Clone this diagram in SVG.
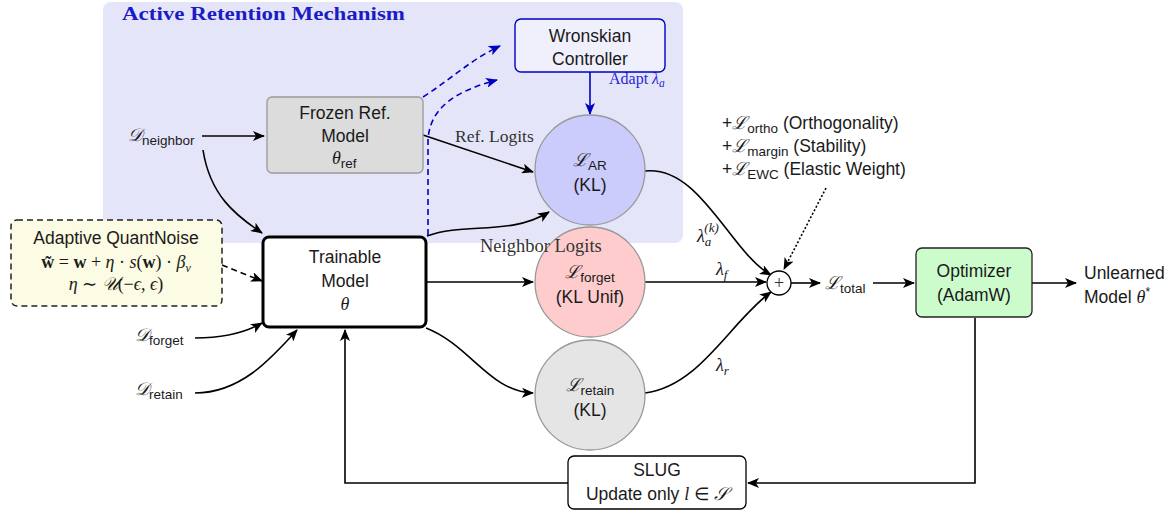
<svg xmlns="http://www.w3.org/2000/svg" width="1173" height="510" viewBox="0 0 1173 510">
<style>
.s{font-family:"Liberation Sans","DejaVu Sans",sans-serif;font-size:17.5px;fill:#1a1a1a}
.m{font-family:"Liberation Serif","DejaVu Serif",serif;font-style:italic;font-size:18px;fill:#1a1a1a}
.r{font-family:"Liberation Serif","DejaVu Serif",serif;fill:#333}
.sub{font-family:"Liberation Sans","DejaVu Sans",sans-serif;font-style:normal;font-size:13.5px}
.c{stroke:#000;stroke-width:1.6;fill:none}
.bl{stroke:#0000c0;stroke-width:1.6;fill:none}
.mid{text-anchor:middle}
</style>
<defs>
<marker id="ah" viewBox="0 0 12 10" refX="11" refY="5" markerWidth="12" markerHeight="10" markerUnits="userSpaceOnUse" orient="auto"><path d="M0,0 L12,5 L0,10 L3,5 Z" fill="#000"/></marker>
<marker id="ahb" viewBox="0 0 12 10" refX="11" refY="5" markerWidth="12" markerHeight="10" markerUnits="userSpaceOnUse" orient="auto"><path d="M0,0 L12,5 L0,10 L3,5 Z" fill="#0000c0"/></marker>
</defs>
<rect width="1173" height="510" fill="#fff"/>
<g id="bg">
<rect x="103" y="2" width="580" height="241" rx="8" fill="#e5e5fa"/>
<text x="122" y="20" font-family="Liberation Serif,serif" font-weight="bold" font-size="19.5" fill="#1c1cc4" textLength="283" lengthAdjust="spacingAndGlyphs">Active Retention Mechanism</text>
</g>
<g id="connectors">
<path class="c" d="M202 136 L264 136" marker-end="url(#ah)"/>
<path class="c" d="M203 150 C210 195 235 215 262 233" marker-end="url(#ah)"/>
<path class="c" d="M222 265 L262 281" stroke-dasharray="6,4" marker-end="url(#ah)"/>
<path class="c" d="M195 338 C225 338 245 333 262 323" marker-end="url(#ah)"/>
<path class="c" d="M195 393 C240 393 270 360 297 330" marker-end="url(#ah)"/>
<path class="c" d="M975 318 L975 483 L748 483" marker-end="url(#ah)"/>
<path class="c" d="M568 483 L345 483 L345 330" marker-end="url(#ah)"/>
<path class="c" d="M423 135 L533 172" marker-end="url(#ah)"/>
<path class="c" d="M427 236 C465 222 510 236 549 212" marker-end="url(#ah)"/>
<path class="c" d="M426 282 L533 282" marker-end="url(#ah)"/>
<path class="c" d="M426 328 C470 345 490 392 533 393" marker-end="url(#ah)"/>
<path class="c" d="M645 171 C700 165 730 252 771 275" marker-end="url(#ah)"/>
<path class="c" d="M645 282 L766 282" marker-end="url(#ah)"/>
<path class="c" d="M645 393 C700 386 730 322 771 292" marker-end="url(#ah)"/>
<path class="c" d="M826 188 L784 269" stroke-dasharray="2,2" marker-end="url(#ah)"/>
<path class="c" d="M791 283 L820 283" marker-end="url(#ah)"/>
<path class="c" d="M873 283 L914 283" marker-end="url(#ah)"/>
<path class="c" d="M1032 283 L1076 283" marker-end="url(#ah)"/>
<path class="bl" d="M423 97 C450 80 470 60 500 46" stroke-dasharray="6,4" marker-end="url(#ahb)"/>
<path class="bl" d="M428 235 L428 140 C430 105 460 90 497 80" stroke-dasharray="6,4" marker-end="url(#ahb)"/>
<path class="bl" d="M590 72 L590 114" marker-end="url(#ahb)"/>
<text class="r" x="455" y="142" style="font-size:17.5px">Ref. Logits</text>
<text class="m" x="697" y="242">λ<tspan font-size="13" dy="4">a</tspan><tspan font-size="13" dx="-7" dy="-14">(k)</tspan></text>
<text class="m" x="716" y="275">λ<tspan font-size="13" dy="4">f</tspan></text>
<text class="m" x="716" y="371">λ<tspan font-size="13" dy="4">r</tspan></text>
<text x="609" y="84" font-family="Liberation Serif,serif" font-size="16" fill="#2a2ad0">Adapt <tspan font-style="italic">λ</tspan><tspan font-style="italic" font-size="11.5" dy="3">a</tspan></text>
</g>
<g id="d_neighbor"><text class="m" x="128" y="141">𝒟<tspan class="sub" dy="4">neighbor</tspan></text></g>
<g id="d_forget"><text class="m" x="135" y="341">𝒟<tspan class="sub" dy="4">forget</tspan></text></g>
<g id="d_retain"><text class="m" x="135" y="395">𝒟<tspan class="sub" dy="4">retain</tspan></text></g>
<g id="wronskian">
<rect x="515" y="19" width="150" height="53" rx="6" fill="#f0f0fd" stroke="#0000c0" stroke-width="1.4"/>
<text class="s mid" x="590" y="42">Wronskian</text>
<text class="s mid" x="590" y="65">Controller</text>
</g>
<g id="frozen">
<rect x="267" y="97" width="156" height="76" rx="5" fill="#dcdcdc" stroke="#999" stroke-width="1.3"/>
<text class="s mid" x="345" y="119">Frozen Ref.</text>
<text class="s mid" x="345" y="142">Model</text>
<text class="m" x="332" y="164">θ<tspan class="sub" dy="4">ref</tspan></text>
</g>
<g id="trainable">
<rect x="263" y="237" width="163" height="90" rx="6" fill="#fff" stroke="#000" stroke-width="3"/>
<text class="s mid" x="345" y="263">Trainable</text>
<text class="s mid" x="345" y="287">Model</text>
<text class="m mid" x="345" y="310">θ</text>
</g>
<g id="quantnoise">
<rect x="11" y="220" width="211" height="86" rx="6" fill="#fcfbe3" stroke="#222" stroke-width="1.5" stroke-dasharray="6,4"/>
<text class="s mid" x="116" y="244">Adaptive QuantNoise</text>
<text class="mid" x="116" y="268" font-family="Liberation Serif,serif" font-size="18" fill="#1a1a1a"><tspan font-weight="bold">w̃</tspan> = <tspan font-weight="bold">w</tspan> + <tspan font-style="italic">η</tspan> · <tspan font-style="italic">s</tspan>(<tspan font-weight="bold">w</tspan>) · <tspan font-style="italic">β</tspan><tspan font-style="italic" font-size="12" dy="4">v</tspan></text>
<text class="mid" x="116" y="290" font-family="Liberation Serif,serif" font-size="18" fill="#1a1a1a"><tspan font-style="italic">η</tspan> ∼ <tspan font-style="italic">𝒰</tspan>(−<tspan font-style="italic">ϵ</tspan>, <tspan font-style="italic">ϵ</tspan>)</text>
</g>
<g id="l_ar">
<circle cx="590" cy="170" r="55" fill="#ccccfc" stroke="#999" stroke-width="1.3"/>
<text class="m mid" x="590" y="166">ℒ<tspan class="sub" dy="4">AR</tspan></text>
<text class="s mid" x="590" y="191">(KL)</text>
</g>
<g id="l_forget">
<circle cx="590" cy="282" r="55" fill="#fecccc" stroke="#999" stroke-width="1.3"/>
<text class="m mid" x="590" y="278">ℒ<tspan class="sub" dy="4">forget</tspan></text>
<text class="s mid" x="590" y="303">(KL Unif)</text>
</g>
<g id="l_retain">
<circle cx="590" cy="395" r="55" fill="#e5e5e5" stroke="#999" stroke-width="1.3"/>
<text class="m mid" x="590" y="391">ℒ<tspan class="sub" dy="4">retain</tspan></text>
<text class="s mid" x="590" y="416">(KL)</text>
</g>
<text class="r" x="480" y="252" style="font-size:18.5px">Neighbor Logits</text>
<g id="sum">
<circle cx="779" cy="283" r="12" fill="#fff" stroke="#000" stroke-width="1.3"/>
<text class="mid" x="779" y="289" font-family="Liberation Serif,serif" font-size="18" fill="#333">+</text>
</g>
<g id="extra_losses">
<text class="s" x="722" y="129">+<tspan class="m">ℒ</tspan><tspan class="sub" dy="4">ortho</tspan><tspan dy="-4"> (Orthogonality)</tspan></text>
<text class="s" x="722" y="152">+<tspan class="m">ℒ</tspan><tspan class="sub" dy="4">margin</tspan><tspan dy="-4"> (Stability)</tspan></text>
<text class="s" x="722" y="175">+<tspan class="m">ℒ</tspan><tspan class="sub" dy="4">EWC</tspan><tspan dy="-4"> (Elastic Weight)</tspan></text>
</g>
<g id="l_total"><text class="m" x="825" y="289">ℒ<tspan class="sub" dy="4">total</tspan></text></g>
<g id="optimizer">
<rect x="916" y="248" width="116" height="69" rx="6" fill="#ccfccc" stroke="#222" stroke-width="1.3"/>
<text class="s mid" x="974" y="277">Optimizer</text>
<text class="s mid" x="974" y="301">(AdamW)</text>
</g>
<g id="output">
<text class="s" x="1084" y="279">Unlearned</text>
<text class="s" x="1084" y="303">Model <tspan class="m">θ</tspan><tspan font-size="12" dy="-7">*</tspan></text>
</g>
<g id="slug">
<rect x="568" y="456" width="178" height="53" rx="6" fill="#fff" stroke="#000" stroke-width="1.3"/>
<text class="s mid" x="657" y="476">SLUG</text>
<text class="s mid" x="657" y="500">Update only <tspan class="m">l</tspan> ∈ <tspan class="m">𝒮</tspan></text>
</g>
</svg>
